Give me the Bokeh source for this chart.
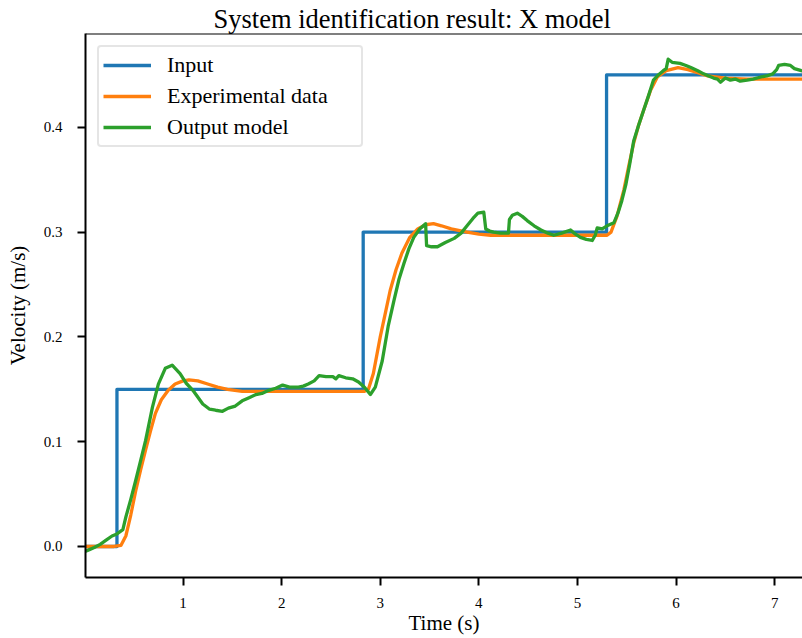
from bokeh.plotting import figure
from bokeh.models import Span, FixedTicker, PrintfTickFormatter, Legend, LegendItem, Range1d
from bokeh.embed import file_html
from bokeh.resources import INLINE

# ---- data ----
input_t = [0.0, 0.33, 0.33, 2.827, 2.827, 5.295, 5.295, 7.4]
input_v = [0.0, 0.0, 0.15, 0.15, 0.30, 0.30, 0.45, 0.45]

exp_t = [0.0, 0.30, 0.37, 0.42, 0.47, 0.52, 0.57, 0.62, 0.67, 0.72, 0.78, 0.85, 0.92, 1.0, 1.06,
         1.15, 1.25, 1.35, 1.45, 1.6, 1.8, 2.2, 2.6, 2.84, 2.88, 2.93, 3.0, 3.05, 3.10, 3.16, 3.22,
         3.30, 3.38, 3.46, 3.54, 3.62, 3.72, 3.88, 4.0, 4.12, 4.5, 5.0, 5.3, 5.34, 5.40, 5.47, 5.52,
         5.57, 5.62, 5.67, 5.74, 5.81, 5.90, 6.02, 6.12, 6.22, 6.32, 6.5, 6.72, 7.0, 7.4]
exp_v = [0.0, 0.0, 0.001, 0.010, 0.030, 0.053, 0.073, 0.092, 0.110, 0.127, 0.140, 0.149, 0.155, 0.158, 0.159,
         0.158, 0.155, 0.152, 0.150, 0.148, 0.148, 0.148, 0.148, 0.148, 0.150, 0.165, 0.200, 0.222, 0.244, 0.264, 0.280,
         0.295, 0.303, 0.307, 0.308, 0.306, 0.303, 0.300, 0.298, 0.297, 0.297, 0.297, 0.297, 0.300, 0.315, 0.340, 0.363,
         0.385, 0.402, 0.416, 0.435, 0.448, 0.454, 0.457, 0.455, 0.452, 0.449, 0.447, 0.446, 0.446, 0.446]

model_t = [0.0, 0.05, 0.10, 0.16, 0.22, 0.28, 0.33, 0.39, 0.42, 0.47, 0.52, 0.57, 0.62, 0.69, 0.75, 0.82,
           0.89, 0.97, 1.03, 1.10, 1.20, 1.27, 1.33, 1.40, 1.46, 1.53, 1.60, 1.67, 1.74, 1.80, 1.87, 1.94,
           2.01, 2.08, 2.17, 2.22, 2.27, 2.33, 2.38, 2.45, 2.52, 2.55, 2.58, 2.65, 2.72, 2.78, 2.84, 2.90,
           2.95, 3.02, 3.08, 3.14, 3.19, 3.24, 3.29, 3.34, 3.40, 3.46, 3.47, 3.52, 3.58, 3.66, 3.75, 3.82,
           3.88, 3.94, 3.99, 4.05, 4.07, 4.11, 4.15, 4.22, 4.30, 4.31, 4.34, 4.39, 4.44, 4.49, 4.56, 4.63,
           4.70, 4.76, 4.84, 4.93, 4.98, 5.03, 5.09, 5.15, 5.18, 5.20, 5.25, 5.30, 5.37, 5.41, 5.45, 5.49,
           5.53, 5.57, 5.62, 5.67, 5.72, 5.77, 5.82, 5.87, 5.90, 5.92, 5.96, 6.04, 6.10, 6.15, 6.22, 6.28,
           6.33, 6.38, 6.42, 6.45, 6.50, 6.55, 6.60, 6.65, 6.72, 6.78, 6.86, 6.92, 6.98, 7.02, 7.04, 7.10,
           7.16, 7.20, 7.27, 7.32]
model_v = [-0.005, -0.003, -0.001, 0.002, 0.006, 0.010, 0.012, 0.016, 0.028, 0.045, 0.063, 0.082, 0.101, 0.133, 0.155, 0.170,
           0.173, 0.165, 0.156, 0.149, 0.136, 0.131, 0.130, 0.129, 0.132, 0.134, 0.139, 0.142, 0.145, 0.146, 0.149, 0.151,
           0.154, 0.152, 0.152, 0.153, 0.155, 0.158, 0.163, 0.162, 0.162, 0.160, 0.163, 0.161, 0.160, 0.157, 0.152, 0.145,
           0.152, 0.177, 0.210, 0.235, 0.255, 0.270, 0.284, 0.295, 0.303, 0.308, 0.287, 0.286, 0.286, 0.290, 0.294, 0.299,
           0.306, 0.313, 0.318, 0.319, 0.303, 0.301, 0.300, 0.299, 0.299, 0.312, 0.316, 0.318, 0.315, 0.311, 0.306, 0.302,
           0.299, 0.297, 0.299, 0.302, 0.298, 0.295, 0.293, 0.292, 0.297, 0.304, 0.303, 0.306, 0.309, 0.318, 0.330, 0.345,
           0.365, 0.387, 0.402, 0.416, 0.430, 0.445, 0.450, 0.454, 0.456, 0.465, 0.462, 0.461, 0.459, 0.457, 0.454, 0.451,
           0.449, 0.447, 0.446, 0.443, 0.447, 0.445, 0.446, 0.444, 0.445, 0.446, 0.448, 0.449, 0.451, 0.455, 0.459, 0.460,
           0.459, 0.456, 0.454, 0.453]

x_ticks = [1, 2, 3, 4, 5, 6, 7]
y_ticks = [0.0, 0.1, 0.2, 0.3, 0.4]

SERIF = "Liberation Serif"

p = figure(width=802, height=638, output_backend="svg", toolbar_location=None,
           x_range=Range1d(0.011, 7.282), y_range=Range1d(-0.0296, 0.4895),
           min_border_left=85, min_border_right=0, min_border_top=33, min_border_bottom=61)

p.title.text = "System identification result: X model"
p.title.text_font = SERIF
p.title.text_font_size = "26.5px"
p.title.text_font_style = "normal"
p.title.text_color = "black"
p.title.align = "left"
p.title.offset = 128
p.title.standoff = 0

p.outline_line_color = None
p.grid.visible = False
p.background_fill_color = "white"
p.border_fill_color = "white"

r_in = p.line(input_t, input_v, line_color="#1f77b4", line_width=3.3, line_join="round")
r_exp = p.line(exp_t, exp_v, line_color="#ff7f0e", line_width=3.3, line_join="round")
r_mod = p.line(model_t, model_v, line_color="#2ca02c", line_width=3.3, line_join="round")

# top spine
p.add_layout(Span(location=0.4895, dimension="width", line_color="black", line_width=2))

for ax in (p.xaxis[0], p.yaxis[0]):
    ax.axis_line_width = 2
    ax.axis_line_color = "black"
    ax.major_tick_line_width = 2
    ax.major_tick_line_color = "black"
    ax.major_tick_out = 8
    ax.major_tick_in = 0
    ax.minor_tick_line_color = None
    ax.major_label_text_font = SERIF
    ax.major_label_text_font_size = "15px"
    ax.major_label_text_color = "black"
    ax.axis_label_text_font = SERIF
    ax.axis_label_text_font_size = "21px"
    ax.axis_label_text_font_style = "normal"
    ax.axis_label_text_color = "black"

p.xaxis.ticker = FixedTicker(ticks=x_ticks)
p.yaxis.ticker = FixedTicker(ticks=y_ticks)
p.yaxis.formatter = PrintfTickFormatter(format="%.1f")
p.xaxis.axis_label = "Time (s)"
p.yaxis.axis_label = "Velocity (m/s)"
p.xaxis.major_label_standoff = 12
p.yaxis.major_label_standoff = 15
p.xaxis.axis_label_standoff = 0
p.yaxis.axis_label_standoff = 11

legend = Legend(items=[LegendItem(label="Input", renderers=[r_in]),
                       LegendItem(label="Experimental data", renderers=[r_exp]),
                       LegendItem(label="Output model", renderers=[r_mod])],
                location="top_left")
legend.margin = 12
legend.padding = 4
legend.spacing = 3
legend.glyph_width = 48
legend.glyph_height = 28
legend.label_height = 28
legend.label_width = 190
legend.label_standoff = 16
legend.label_text_font = SERIF
legend.label_text_font_size = "22px"
legend.label_text_color = "black"
legend.border_line_color = "#cccccc"
legend.border_line_width = 2
legend.border_radius = 4
legend.background_fill_alpha = 0.8
p.add_layout(legend)

open("out.html", "w").write(file_html(p, INLINE))
